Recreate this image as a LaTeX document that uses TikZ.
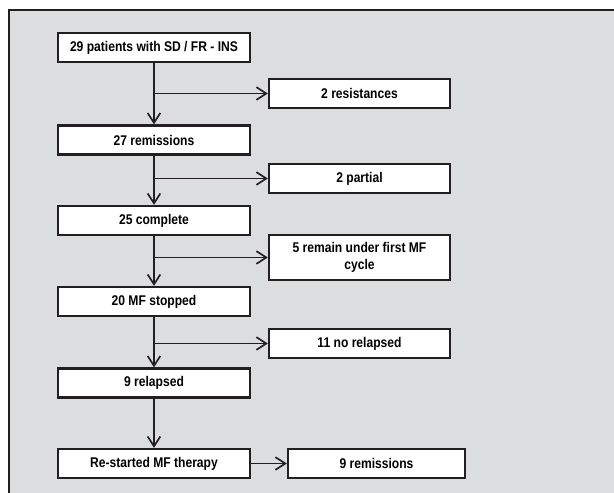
\documentclass[tikz,border=0pt]{standalone}
\usepackage{fontspec}
\setmainfont[FakeStretch=0.86]{Liberation Sans}
\usepackage{xcolor}
\usepackage{tikz}
\usetikzlibrary{arrows.meta,positioning,calc}
\definecolor{panel}{RGB}{220,221,223}
\definecolor{ink}{RGB}{35,31,32}

\begin{document}
\begin{tikzpicture}[x=0.025cm,y=-0.025cm,>={Straight Barb[length=7pt,width=9pt]},
  box/.style={draw=ink,fill=white,line width=1.6pt,inner sep=0pt,align=center,
    font=\fontsize{10}{12}\selectfont\bfseries,minimum height=0.725cm},
  lbox/.style={box,minimum width=4.8cm},
  rbox/.style={box,minimum width=4.525cm},
  flow/.style={->,draw=ink,line width=1.2pt}]
  \useasboundingbox (0,0) rectangle (614,493);
  \fill[white] (0,0) rectangle (614,493);
  \draw[ink,fill=panel,line width=1.5pt] (9,10) rectangle (625,505);
  \node[lbox] (b1) at (154,47.5) {29 patients with SD / FR - INS};
  \node[lbox] (b2) at (154,140) {27 remissions};
  \node[lbox] (b3) at (154,220.5) {25 complete};
  \node[lbox] (b4) at (154,301.5) {20 MF stopped};
  \node[lbox] (b5) at (154,383) {9 relapsed};
  \node[lbox] (b6) at (154,463.5) {Re-started MF therapy};
  \node[rbox] (r1) at (359.5,93.5) {2 resistances};
  \node[rbox] (r2) at (359.5,178.5) {2 partial};
  \node[rbox,minimum height=1.125cm] (r3) at (359.5,257.5) {5 remain under first MF\\cycle};
  \node[rbox] (r4) at (359.5,343.5) {11 no relapsed};
  \node[box,minimum width=4.425cm] (r6) at (376.5,463.5) {9 remissions};
  \foreach \a/\b/\r [count=\i] in {b1/b2/r1,b2/b3/r2,b3/b4/r3,b4/b5/r4}{
    \draw[flow] (\a) -- (\b);
    \coordinate (j\i) at (\a.south |- \r.west);
    \draw[flow] (j\i) -- (\r);
  }
  \draw[flow] (b5) -- (b6);
  \draw[flow] (b6) -- (r6);
\end{tikzpicture}
\end{document}
